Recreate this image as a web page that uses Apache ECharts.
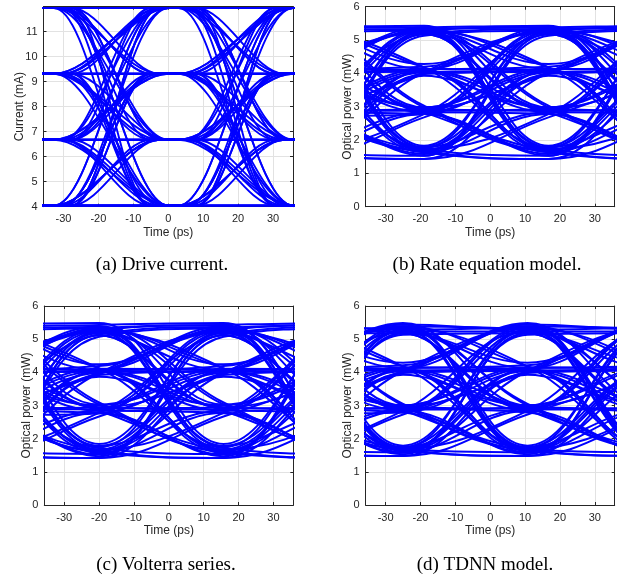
<!DOCTYPE html>
<html><head><meta charset="utf-8">
<script src="https://cdn.jsdelivr.net/npm/echarts@6/dist/echarts.min.js"></script>
<style>html,body{margin:0;padding:0;background:#fff}#c{width:618px;height:577px}</style>
</head><body><div id="c"></div>
<script>
// ---------------- data ----------------
const T = 35.71;                 // symbol period (ps), 28 GBd
const timeRange = [-35.71, 35.71];
// PAM4 symbol stream (0..3) folded into the eye
const symbols = [0,0,0,1,1,2,2,3,3,3, 0,3,0,2,0,1,0,3,1,3, 2,1,2,0,2,3,1,0,2,2,
                 1,1,3,0,0,3,3,2,3,1, 2,2,0,1,3,3,1,0,0,2, 1,3,2,0,3,2,2,3,0,1,
                 1,0,3,1,1,2,3,0,2,1, 0,0,1,2,3,3,0,0];
// (a) drive current levels (mA) and per-symbol timing offset (ps)
const driveLevels = [4.05, 6.68, 9.32, 11.95];
const driveSkew = [0,2.5,-2.5,0,2.5,-2.5,0,2.5,-2.5,0, -2.5,0,2.5,-2.5,2.5,0,-2.5,0,2.5,2.5,
                   0,-2.5,2.5,0,-2.5,2.5,0,0,-2.5,2.5, 2.5,0,-2.5,-2.5,0,2.5,0,-2.5,2.5,0,
                   0,2.5,-2.5,0,0,-2.5,2.5,2.5,0,-2.5, 2.5,-2.5,0,2.5,0,-2.5,0,2.5,-2.5,0,
                   -2.5,2.5,0,-2.5,2.5,0,0,2.5,-2.5,0, 2.5,0,-2.5,2.5,0,-2.5,0,2.5];
// optical power at symbol centre (mW), indexed [previous symbol][current symbol]
const rateEqLevels = [
  [1.45, 2.75, 4.00, 5.20],
  [1.60, 2.85, 4.05, 5.25],
  [1.70, 2.90, 4.12, 5.30],
  [1.75, 2.95, 4.20, 5.35]];
const volterraLevels = [
  [1.45, 2.75, 3.95, 5.15],
  [1.55, 2.85, 4.02, 5.22],
  [1.65, 2.92, 4.10, 5.30],
  [1.75, 3.00, 4.15, 5.40]];
const tdnnLevels = [
  [1.50, 2.80, 4.00, 5.20],
  [1.60, 2.86, 4.06, 5.30],
  [1.65, 2.92, 4.12, 5.40],
  [1.70, 2.96, 4.20, 5.25]];
// extra offset (mW) from the symbol two periods back, per panel
const rateEqTail = [-0.07, -0.02, 0.03, 0.08];
const volterraTail = [-0.08, -0.03, 0.03, 0.09];
const tdnnTail = [-0.07, -0.02, 0.04, 0.09];
// eye centre (ps) of each panel
const eyeCentre = [1, -19, -20, -25];
const captions = ['(a) Drive current.', '(b) Rate equation model.', '(c) Volterra series.', '(d) TDNN model.'];
const yNames = ['Current (mA)', 'Optical power (mW)', 'Optical power (mW)', 'Optical power (mW)'];
const yRanges = [[4, 12], [0, 6], [0, 6], [0, 6]];

// ---------------- layout / style ----------------
const AX = '#262626', GRIDC = '#e2e2e2', BLUE = '#0000ff';
const grids = [
  {left: 43.5, top: 6.7, width: 249.5, height: 200},
  {left: 365.7, top: 6.7, width: 249, height: 200},
  {left: 44.3, top: 306, width: 249, height: 199},
  {left: 365.7, top: 306, width: 249, height: 199}];
const yNameGap = [17.5, 12.4, 11.6, 12.4];
const capPos = [[162, 265], [487, 265], [166, 565], [485, 565]];

const xAxes = [], yAxes = [], series = [];
grids.forEach((g, i) => {
  const tickCommon = {show: true, inside: true, length: 3, lineStyle: {color: AX, width: 1}};
  const lineCommon = {show: true, onZero: false, lineStyle: {color: AX, width: 1}};
  xAxes.push({gridIndex: i, type: 'value', min: timeRange[0], max: timeRange[1], position: 'bottom',
    axisLine: lineCommon, axisTick: tickCommon,
    axisLabel: {color: AX, fontSize: 11, fontFamily: 'Liberation Sans', margin: 7,
      formatter: v => (Math.abs(v % 10) < 1e-6 ? String(Math.round(v)) : '')},
    splitLine: {show: true, lineStyle: {color: GRIDC, width: 1}},
    name: 'Time (ps)', nameLocation: 'middle', nameGap: 20,
    nameTextStyle: {color: AX, fontSize: 12, fontFamily: 'Liberation Sans'}});
  xAxes.push({gridIndex: i, type: 'value', min: timeRange[0], max: timeRange[1], position: 'top',
    axisLine: lineCommon, axisTick: tickCommon, axisLabel: {show: false}, splitLine: {show: false}});
  const yr = yRanges[i];
  yAxes.push({gridIndex: i, type: 'value', min: yr[0], max: yr[1], interval: 1, position: 'left',
    axisLine: lineCommon, axisTick: tickCommon,
    axisLabel: {color: AX, fontSize: 11, fontFamily: 'Liberation Sans', margin: 6,
      formatter: v => (i === 0 && v >= 12 ? '' : String(v))},
    splitLine: {show: true, lineStyle: {color: GRIDC, width: 1}},
    name: yNames[i], nameLocation: 'middle', nameGap: yNameGap[i], nameMoveOverlap: false,
    nameTextStyle: {color: AX, fontSize: 12, fontFamily: 'Liberation Sans'}});
  yAxes.push({gridIndex: i, type: 'value', min: yr[0], max: yr[1], interval: 1, position: 'right',
    axisLine: lineCommon, axisTick: tickCommon, axisLabel: {show: false}, splitLine: {show: false}});
});

function addTrace(panel, pts, smooth, width) {
  series.push({type: 'line', xAxisIndex: panel * 2, yAxisIndex: panel * 2, data: pts,
    smooth: smooth, symbol: 'none', silent: true, animation: false, clip: true,
    lineStyle: {color: BLUE, width: width}, emphasis: {disabled: true}});
}

// (a) drive current: symbol levels held, then smooth transitions
for (let w = 1; w <= symbols.length - 5; w++) {
  const pts = [];
  for (let n = w - 1; n <= w + 4; n++) {
    const tc = eyeCentre[0] + (n - w - 1) * T + driveSkew[n];
    const y = driveLevels[symbols[n]];
    pts.push([tc - 3.5, y], [tc + 4.5, y]);
  }
  addTrace(0, pts, 0.32, 1.9);
}
// (b)-(d) optical output: values at symbol centres
[[rateEqLevels, rateEqTail], [volterraLevels, volterraTail], [tdnnLevels, tdnnTail]].forEach(([tbl, tail], k) => {
  const p = k + 1;
  for (let w = 3; w <= symbols.length - 5; w++) {
    const pts = [];
    for (let n = w - 1; n <= w + 4; n++) {
      pts.push([eyeCentre[p] + (n - w - 1) * T, tbl[symbols[n - 1]][symbols[n]] + tail[symbols[n - 2]]]);
    }
    addTrace(p, pts, 0.4, 2);
  }
});

const graphic = captions.map((c, i) => ({type: 'text', x: capPos[i][0], y: capPos[i][1], silent: true,
  style: {text: c, fill: '#000', fontSize: 19, fontFamily: 'Liberation Serif',
    align: 'center', verticalAlign: 'middle', textAlign: 'center', textVerticalAlign: 'middle'}}));

const chart = echarts.init(document.getElementById('c'), null, {renderer: 'canvas', width: 618, height: 577});
chart.setOption({animation: false, backgroundColor: '#fff', grid: grids, xAxis: xAxes, yAxis: yAxes,
  series: series, graphic: graphic});
</script></body></html>
